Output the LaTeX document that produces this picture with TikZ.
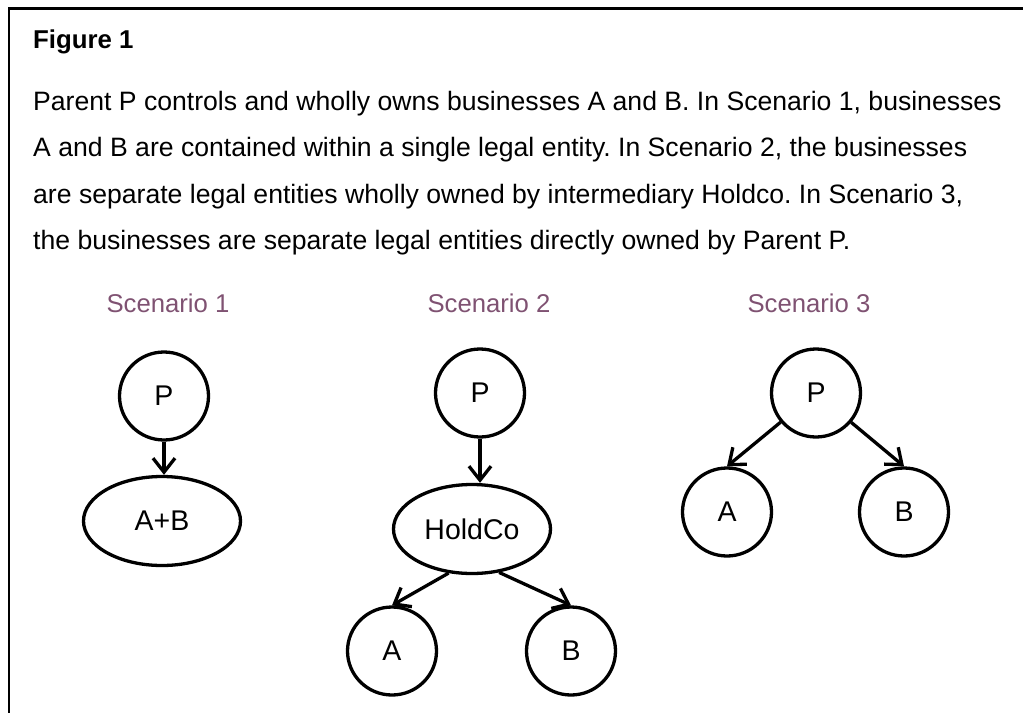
\documentclass[tikz,border=0pt]{standalone}
\usepackage{fontspec}
\setmainfont{Liberation Sans}
\usetikzlibrary{arrows.meta,shapes.geometric}
\definecolor{scen}{RGB}{127,82,114}
\frenchspacing
\tikzset{
  bodytext/.style={anchor=base west,inner sep=0pt,font=\fontsize{26.6}{30}\selectfont},
  scentext/.style={anchor=base,inner sep=0pt,text=scen,font=\fontsize{25.7}{30}\selectfont},
  entity/.style={ellipse,draw,line width=3.3pt,minimum width=89pt,minimum height=88pt,inner sep=0pt,font=\fontsize{28.5}{30}\selectfont},
  wide/.style={entity,minimum width=157pt,minimum height=89pt},
  arr/.style={line width=3.3pt,-{Straight Barb[length=14pt,width=22pt]}},
  frame/.style={line width=2.5pt}
}
\begin{document}
\begin{tikzpicture}[x=1pt,y=-1pt]
\useasboundingbox (0,0) rectangle (1023,713);
\coordinate (fc) at (9,8.3);
\coordinate (fr) at (1023,8.3);
\coordinate (fb) at (9,713);
\draw[frame] (fr) -- (fc) -- (fb);
\node[bodytext,font=\bfseries\fontsize{25.8}{30}\selectfont] (fig) at (33,48) {Figure 1};
\node[bodytext] (l1) at (33,110) {Parent P controls and wholly owns businesses A and B. In Scenario 1, businesses};
\node[bodytext] (l2) at (33,156.5) {A and B are contained within a single legal entity. In Scenario 2, the businesses};
\node[bodytext] (l3) at (33,203) {are separate legal entities wholly owned by intermediary Holdco. In Scenario 3,};
\node[bodytext] (l4) at (33,249.5) {the businesses are separate legal entities directly owned by Parent P.};
\node[scentext] (s1) at (168,312) {Scenario 1};
\node[scentext] (s2) at (489,312) {Scenario 2};
\node[scentext] (s3) at (809,312) {Scenario 3};
% Scenario 1
\node[entity] (P1) at (164,396) {P};
\node[wide] (AB) at (162,521) {A+B};
\draw[arr] (P1) -- (P1 |- AB.north);
% Scenario 2
\node[entity] (P2) at (480,393) {P};
\node[wide] (H) at (472,529) {HoldCo};
\node[entity] (A2) at (392,651) {A};
\node[entity] (B2) at (571,651) {B};
\draw[arr] (P2) -- (P2 |- H.north);
\draw[arr] (H.242) -- (A2.north);
\draw[arr] (H.302) -- (B2.north);
% Scenario 3
\node[entity] (P3) at (816,393) {P};
\node[entity] (A3) at (727,512) {A};
\node[entity] (B3) at (904,512) {B};
\draw[arr] (P3) -- (A3.north);
\draw[arr] (P3) -- (B3.north);
\end{tikzpicture}
\end{document}
